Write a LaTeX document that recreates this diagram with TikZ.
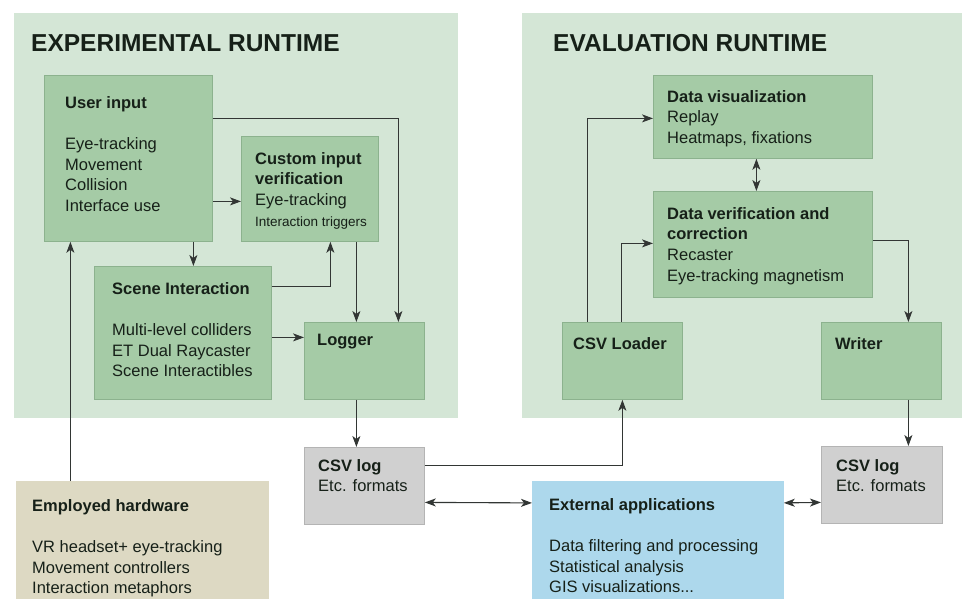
\documentclass[tikz,border=0pt]{standalone}
\usepackage{fontspec}
\setmainfont{Liberation Sans}
\usepackage{tikz}
\usetikzlibrary{arrows.meta}
\usepackage{color}

\definecolor{panelc}{RGB}{212,230,214}
\definecolor{gfill}{RGB}{165,203,166}
\definecolor{gline}{RGB}{140,178,142}
\definecolor{grfill}{RGB}{208,208,208}
\definecolor{grline}{RGB}{180,180,180}
\definecolor{hwfill}{RGB}{221,217,195}
\definecolor{extfill}{RGB}{173,216,236}
\definecolor{txtc}{RGB}{22,32,24}
\definecolor{arrc}{RGB}{50,54,52}

\tikzset{
  box/.style={draw=gline, fill=gfill, line width=0.8pt, inner sep=0pt, anchor=north west},
  greybox/.style={box, draw=grline, fill=grfill},
  txt/.style={anchor=north west, inner sep=0pt, align=left, text=txtc, font=\fontsize{16.5}{20.7}\selectfont},
  ttl/.style={anchor=base west, inner sep=0pt, text=txtc, font=\fontsize{24.5}{28}\selectfont\bfseries},
  arr/.style={draw=arrc, line width=1.1pt, -{Stealth[length=11pt,width=8pt,inset=3pt]}},
  dbl/.style={arr, {Stealth[length=11pt,width=8pt,inset=3pt]}-{Stealth[length=11pt,width=8pt,inset=3pt]}}
}

\begin{document}
\begin{tikzpicture}[x=1pt,y=-1pt]
            \useasboundingbox (0,0) rectangle (962,599);
            \fill[panelc] (14,13) rectangle (458,418);
            \fill[panelc] (522,13) rectangle (962,418);
            \node[ttl] (expt) at (31,52) {EXPERIMENTAL RUNTIME};
            \node[ttl] (evalt) at (553,52) {EVALUATION RUNTIME};

            \node[box, minimum width=168, minimum height=166] (ui) at (44,75) {};
            \node[box, minimum width=137, minimum height=105] (civ) at (241,136) {};
            \node[box, minimum width=177, minimum height=133] (sc) at (94,266) {};
            \node[box, minimum width=120, minimum height=77] (lg) at (304,322) {};
            \node[greybox, minimum width=120, minimum height=77] (csvl) at (304,447) {};
            \node[box, draw=hwfill, fill=hwfill, minimum width=252, minimum height=124] (hw) at (16,481) {};
            \node[box, minimum width=219, minimum height=83] (vis) at (653,75) {};
            \node[box, minimum width=219, minimum height=106] (ver) at (653,191) {};
            \node[box, minimum width=120, minimum height=77] (ldr) at (562,322) {};
            \node[box, minimum width=120, minimum height=77] (wr) at (821,322) {};
            \node[greybox, minimum width=121, minimum height=77] (csvr) at (821,446) {};
            \node[box, draw=extfill, fill=extfill, minimum width=251, minimum height=124] (ext) at (532,481) {};

            \node[txt] (uit) at (65,96) {\textbf{User input}\\[20.7pt]Eye-tracking\\Movement\\Collision\\Interface use};
            \node[txt] (civt) at (255,152) {\textbf{Custom input}\\\textbf{verification}\\Eye-tracking\\{\fontsize{13.5}{16}\selectfont Interaction triggers}};
            \node[txt] (sct) at (112,282) {\textbf{Scene Interaction}\\[20.7pt]Multi-level colliders\\ET Dual Raycaster\\Scene Interactibles};
            \node[txt] (lgt) at (317,334) {\textbf{Logger}};
            \node[txt] (csvlt) at (318,459) {\textbf{CSV log}\\Etc. formats};
            \node[txt] (hwt) at (32,499) {\textbf{Employed hardware}\\[20.7pt]VR headset+ eye-tracking\\Movement controllers\\Interaction metaphors};
            \node[txt] (vist) at (667,90) {\textbf{Data visualization}\\Replay\\Heatmaps, fixations};
            \node[txt] (vert) at (667,207) {\textbf{Data verification and}\\\textbf{correction}\\Recaster\\Eye-tracking magnetism};
            \node[txt] (ldrt) at (573,337) {\textbf{CSV Loader}};
            \node[txt] (wrt) at (835,337) {\textbf{Writer}};
            \node[txt] (csvrt) at (836,459) {\textbf{CSV log}\\Etc. formats};
            \node[txt] (extt) at (549,498) {\textbf{External applications}\\[20.7pt]Data filtering and processing\\Statistical analysis\\GIS visualizations...};

            \draw[arr] ([yshift=-43pt]ui.east) -- ([yshift=-12.5pt]civ.west);
            \draw[arr] ([yshift=40pt]ui.east) -| ([xshift=34pt]lg.north);
            \draw[arr] ([xshift=65pt]ui.south) -- ([xshift=10.5pt]sc.north);
            \draw[arr] ([yshift=46.5pt]sc.east) -| ([xshift=20.5pt]civ.south);
            \draw[arr] ([yshift=-4.5pt]sc.east) -- ([yshift=23.5pt]lg.west);
            \draw[arr] ([xshift=46.5pt]civ.south) -- ([xshift=-8pt]lg.north);
            \draw[arr] ([xshift=-8pt]lg.south) -- ([xshift=-8pt]csvl.north);
            \draw[arr] ([xshift=-72pt]hw.north) -- ([xshift=-58pt]ui.south);
            \draw[arr] ([yshift=20.5pt]csvl.east) -| (ldr.south);
            \draw[dbl] ([yshift=-16.5pt]csvl.east) -- ([yshift=40.5pt]ext.west);
            \draw[dbl] ([yshift=40.5pt]ext.east) -- ([yshift=-17.5pt]csvr.west);
            \draw[arr] ([xshift=-35pt]ldr.north) |- ([yshift=-1.5pt]vis.west);
            \draw[arr] ([xshift=-1pt]ldr.north) |- ([yshift=1pt]ver.west);
            \draw[dbl] ([xshift=-6.5pt]vis.south) -- ([xshift=-6.5pt]ver.north);
            \draw[arr] ([yshift=4pt]ver.east) -| ([xshift=27pt]wr.north);
            \draw[arr] ([xshift=27pt]wr.south) -- ([xshift=26.5pt]csvr.north);
        \end{tikzpicture}
\end{document}
